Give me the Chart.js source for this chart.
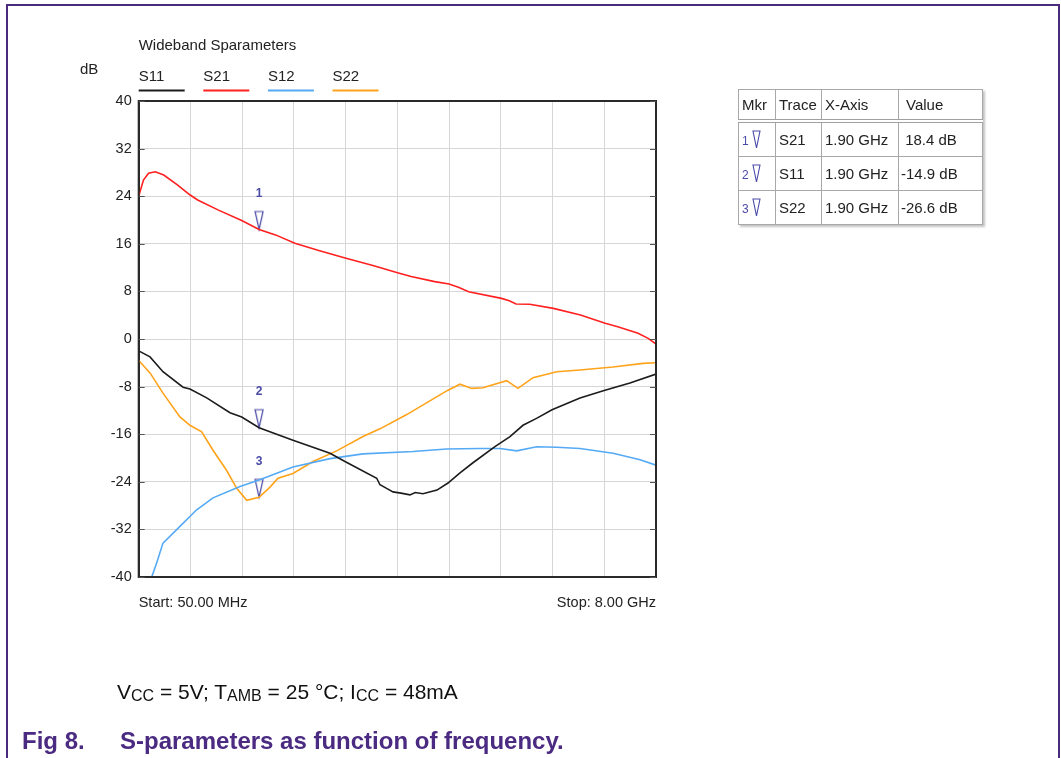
<!DOCTYPE html>
<html>
<head>
<meta charset="utf-8">
<script src="https://cdn.jsdelivr.net/npm/chart.js@4"></script>
<style>
body { margin: 0; width: 1061px; height: 758px; overflow: hidden; background: #fff; font-family: "Liberation Sans", Arial, sans-serif; }
#frame { position: absolute; left: 6px; top: 4px; width: 1050px; height: 800px; border: 2px solid #4b2a7e; }
#c { position: absolute; left: 0; top: 0; }
#mkr { position: absolute; left: 738px; top: 89px; border-collapse: collapse; border: 1px solid #999; box-shadow: 2px 2px 2px #c4c4c4; font-size: 15px; color: #222; }
#mkr th, #mkr td { border: 1px solid #a8a8a8; text-align: left; font-weight: normal; padding: 0 0 0 3px; white-space: pre; }
#mkr th { height: 29px; border-bottom: 4px double #a0a0a0; }
#mkr td { height: 33px; }
#mkr .n { color: #4a4aa8; font-size: 12px; margin-right: 3px; }
#cond { position: absolute; left: 117px; top: 680px; font-size: 21px; color: #111; white-space: nowrap; }
#cond sub { font-size: 16px; vertical-align: -2px; }
#cap { position: absolute; left: 22px; top: 727px; font-size: 24px; font-weight: bold; color: #4b2a82; }
#cap span { position: absolute; left: 98px; white-space: nowrap; }
</style>
</head>
<body>
<div id="frame"></div>
<canvas id="c" width="1061" height="758"></canvas>
<table id="mkr"></table>
<div id="cond">V<sub>CC</sub> = 5V; T<sub>AMB</sub> = 25 °C; I<sub>CC</sub> = 48mA</div>
<div id="cap">Fig 8.<span>S-parameters as function of frequency.</span></div>
<script>
// frequency in GHz, level in dB
const s11Freq = [0.05, 0.224, 0.423, 0.731, 0.838, 1.095, 1.453, 1.633, 1.9, 2.421, 2.99, 3.22, 3.708, 3.758, 3.86, 3.958, 4.08, 4.219, 4.3, 4.419, 4.634, 4.803, 4.988, 5.187, 5.525, 5.756, 5.956, 6.171, 6.402, 6.832, 7.216, 7.6, 8.0];
const s11Db = [-2.0, -3.0, -5.5, -8.1, -8.4, -9.9, -12.4, -13.1, -14.9, -17.0, -19.2, -20.6, -23.4, -24.5, -25.1, -25.7, -25.9, -26.2, -25.8, -26.0, -25.4, -24.2, -22.5, -20.8, -18.1, -16.4, -14.5, -13.3, -11.9, -9.9, -8.6, -7.4, -5.9];

const s21Freq = [0.05, 0.123, 0.201, 0.305, 0.435, 0.644, 0.841, 0.956, 1.268, 1.633, 1.9, 2.153, 2.45, 2.83, 3.236, 3.663, 4.028, 4.236, 4.6, 4.819, 4.964, 5.12, 5.626, 5.745, 5.85, 6.058, 6.423, 6.839, 7.219, 7.412, 7.724, 7.88, 8.0];
const s21Db = [24.0, 26.7, 27.85, 28.1, 27.56, 25.9, 24.2, 23.36, 21.7, 19.9, 18.4, 17.5, 16.1, 14.85, 13.56, 12.3, 11.15, 10.5, 9.64, 9.24, 8.7, 7.95, 6.83, 6.44, 5.88, 5.83, 5.15, 4.03, 2.63, 2.07, 0.95, 0.1, -0.84];

const s12Freq = [0.05, 0.25, 0.327, 0.423, 0.684, 0.941, 1.192, 1.607, 1.9, 2.421, 2.99, 3.497, 4.265, 4.783, 5.295, 5.603, 5.859, 6.167, 6.474, 6.832, 7.339, 7.755, 8.0];
const s12Db = [-40, -40, -37.6, -34.3, -31.5, -28.7, -26.7, -24.8, -23.7, -21.5, -20.1, -19.3, -18.9, -18.5, -18.4, -18.4, -18.8, -18.1, -18.2, -18.4, -19.2, -20.3, -21.2];

const s22Freq = [0.05, 0.224, 0.423, 0.684, 0.838, 1.018, 1.192, 1.402, 1.556, 1.71, 1.9, 2.068, 2.191, 2.421, 2.729, 3.093, 3.497, 3.758, 4.169, 4.803, 4.988, 5.168, 5.341, 5.705, 5.879, 6.11, 6.474, 6.832, 7.339, 7.8, 8.0];
const s22Db = [-3.6, -5.7, -9.1, -13.1, -14.5, -15.6, -18.7, -22.1, -25.1, -27.1, -26.6, -24.9, -23.4, -22.6, -20.6, -18.8, -16.4, -15.1, -12.7, -8.6, -7.6, -8.3, -8.2, -7.0, -8.3, -6.5, -5.5, -5.2, -4.7, -4.1, -4.0];

const traceNames = ['S11', 'S21', 'S12', 'S22'];
const traceColors = ['#1c1c1c', '#ff2020', '#55aaf5', '#ffa31a'];

const markerTrace = ['S21', 'S11', 'S22'];
const markerFreq = [1.90, 1.90, 1.90];
const markerDb = [18.4, -14.9, -26.6];

const yTicks = [-40, -32, -24, -16, -8, 0, 8, 16, 24, 32, 40];
const fStart = 0.05, fStop = 8.0;

const markColor = '#4a4aa8';

function pts(f, d) { return f.map((v, i) => ({ x: v, y: d[i] })); }

// narrow hollow triangle, tip at the centre of the image
const tri = document.createElement('canvas');
tri.width = 10; tri.height = 40;
(function () {
  const g = tri.getContext('2d');
  g.strokeStyle = markColor; g.lineWidth = 1.2;
  g.beginPath(); g.moveTo(1, 2); g.lineTo(9, 2); g.lineTo(5, 20); g.closePath(); g.stroke();
})();

const series = [pts(s11Freq, s11Db), pts(s21Freq, s21Db), pts(s12Freq, s12Db), pts(s22Freq, s22Db)];

const frame = {
  id: 'frame',
  afterDraw(chart) {
    const { ctx, chartArea: a, scales } = chart;
    const y = scales.y;
    ctx.save();
    ctx.strokeStyle = '#2a2a2a'; ctx.lineWidth = 2;
    ctx.strokeRect(a.left, a.top, a.right - a.left, a.bottom - a.top);
    ctx.strokeStyle = '#555'; ctx.lineWidth = 1;
    yTicks.forEach(v => {
      const py = Math.round(y.getPixelForValue(v)) + 0.5;
      ctx.beginPath();
      ctx.moveTo(a.left, py); ctx.lineTo(a.left + 6, py);
      ctx.moveTo(a.right - 6, py); ctx.lineTo(a.right, py);
      ctx.stroke();
    });
    // marker numbers
    ctx.fillStyle = markColor; ctx.font = 'bold 12px "Liberation Sans", Arial';
    ctx.textAlign = 'center'; ctx.textBaseline = 'middle';
    markerDb.forEach((v, i) => {
      ctx.fillText(String(i + 1), scales.x.getPixelForValue(markerFreq[i]), y.getPixelForValue(v) - 36);
    });
    // title, unit, legend
    ctx.fillStyle = '#222'; ctx.textAlign = 'left';
    ctx.font = '15px "Liberation Sans", Arial';
    ctx.fillText('Wideband Sparameters', a.left, 46);
    ctx.fillText('dB', 80, 70);
    ctx.textBaseline = 'alphabetic';
    chart.data.datasets.slice(0, 4).forEach((ds, i) => {
      const lx = a.left + i * 64.6;
      ctx.fillStyle = '#222';
      ctx.fillText(ds.label, lx, 81);
      ctx.strokeStyle = ds.borderColor; ctx.lineWidth = 2;
      ctx.beginPath(); ctx.moveTo(lx, 90.5); ctx.lineTo(lx + 46, 90.5); ctx.stroke();
    });
    // start / stop
    ctx.font = '14.5px "Liberation Sans", Arial'; ctx.textBaseline = 'middle';
    ctx.fillText('Start: ' + (scales.x.min * 1000).toFixed(2) + ' MHz', a.left, 603);
    ctx.textAlign = 'right';
    ctx.fillText('Stop: ' + scales.x.max.toFixed(2) + ' GHz', a.right, 603);
    ctx.restore();
  }
};

const datasets = series.map((d, i) => ({
  type: 'line',
  label: traceNames[i],
  data: d,
  borderColor: traceColors[i],
  borderWidth: 1.6,
  pointRadius: 0,
  tension: 0
}));
datasets.push({
  type: 'scatter',
  label: 'markers',
  data: pts(markerFreq, markerDb),
  pointStyle: tri,
  pointRadius: 5,
  borderColor: markColor
});

new Chart(document.getElementById('c'), {
  type: 'line',
  data: { datasets: datasets },
  options: {
    responsive: false,
    animation: false,
    layout: { padding: { left: 60, top: 101, right: 405, bottom: 181 } },
    plugins: { legend: { display: false }, title: { display: false }, tooltip: { enabled: false } },
    scales: {
      x: {
        type: 'linear', min: fStart, max: fStop,
        afterBuildTicks: s => { s.ticks = []; for (let k = 0; k <= 10; k++) s.ticks.push({ value: fStart + k * (fStop - fStart) / 10 }); },
        afterFit: s => { s.height = 0; },
        ticks: { display: false },
        grid: { color: '#d6d6d6', drawTicks: false },
        border: { color: '#2a2a2a', width: 2 }
      },
      y: {
        min: -40, max: 40,
        afterBuildTicks: s => { s.ticks = yTicks.map(v => ({ value: v })); },
        afterFit: s => { s.width = 78.7; },
        ticks: { padding: 7, color: '#222', font: { family: '"Liberation Sans", Arial', size: 14.5 } },
        grid: { color: '#d6d6d6', drawTicks: false },
        border: { color: '#2a2a2a', width: 2 }
      }
    }
  },
  plugins: [frame]
});

// marker table
const tbl = document.getElementById('mkr');
const colW = [33, 42, 73, 76];
let html = '<tr>' + ['Mkr', 'Trace', 'X-Axis', 'Value'].map((h, i) =>
  '<th style="width:' + colW[i] + 'px' + (i === 3 ? ';padding-left:7px' : '') + '">' + h + '</th>').join('') + '</tr>';
markerDb.forEach((v, i) => {
  html += '<tr><td><span class="n">' + (i + 1) + '</span><svg width="9" height="19" style="vertical-align:-4px"><polygon points="1,1 8,1 4.5,18" fill="none" stroke="' + markColor + '" stroke-width="1.1"/></svg></td>' +
    '<td>' + markerTrace[i] + '</td>' +
    '<td>' + markerFreq[i].toFixed(2) + ' GHz</td>' +
    '<td style="padding-left:2px">' + (v >= 0 ? ' ' : '') + v.toFixed(1) + ' dB</td></tr>';
});
tbl.innerHTML = html;
</script>
</body>
</html>
